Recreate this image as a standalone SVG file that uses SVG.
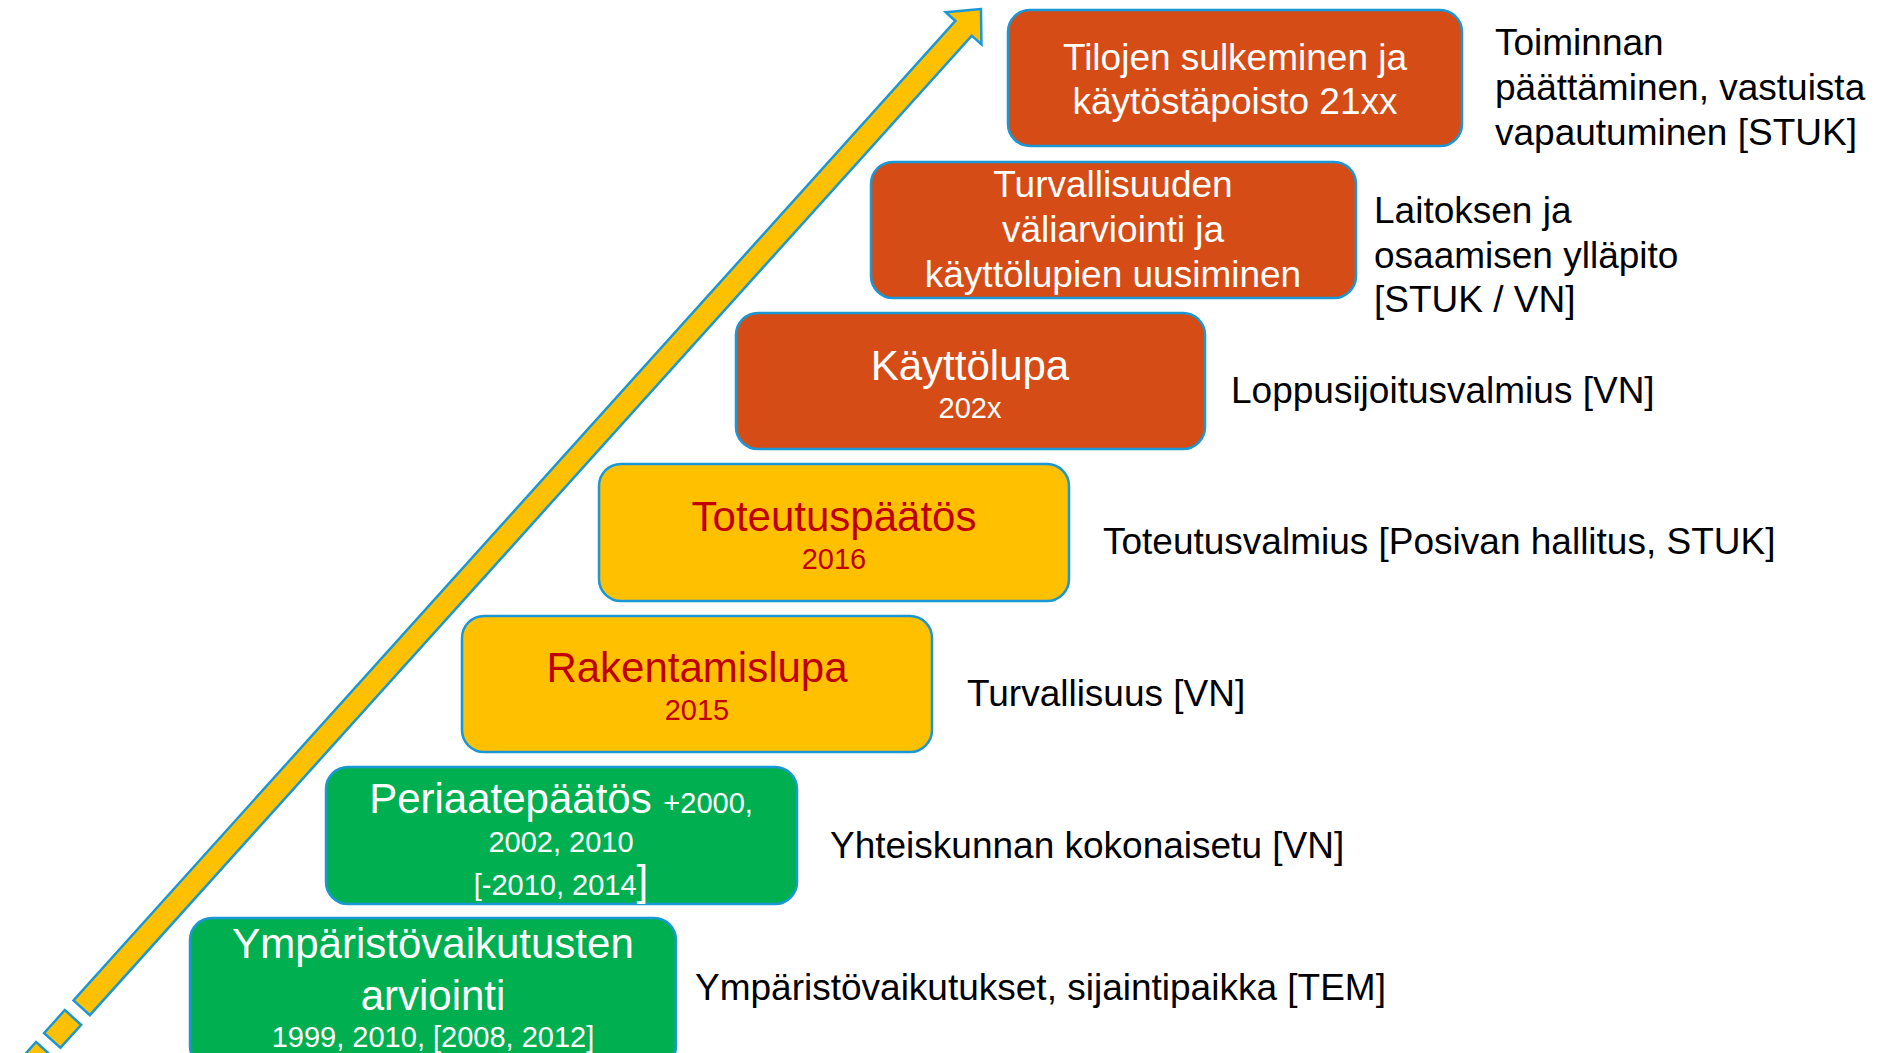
<svg xmlns="http://www.w3.org/2000/svg" width="1881" height="1053" viewBox="0 0 1881 1053">
<style>
text{font-family:"Liberation Sans",Arial,sans-serif}
.box{stroke:#1A98D5;stroke-width:2.5}
.or{fill:#D54C17}
.ye{fill:#FFC000}
.gr{fill:#00B050}
.w{fill:#FFFFFF}
.r{fill:#C00000}
.t37{font-size:37px}
.t42{font-size:42px}
.t29{font-size:29px}
.c{text-anchor:middle}
.lbl{font-size:37px;fill:#000000}
.arr{fill:#FFC000;stroke:#1A98D5;stroke-width:2.5;stroke-linejoin:miter}
</style>
<rect width="1881" height="1053" fill="#FFFFFF"/>
<g id="connectors">
<g transform="translate(981,9) rotate(-48)">
<polygon class="arr" points="0,0 -26,-24 -26,-11 -1344,-11 -1344,11 -26,11 -26,24"/>
<rect class="arr" x="-1388" y="-11" width="31" height="22"/>
<rect class="arr" x="-1460" y="-11" width="60" height="22"/>
</g>
</g>
<g id="n1">
<rect class="box or" x="1008" y="10" width="454" height="136" rx="22"/>
<text class="t37 w c" x="1235" y="70">Tilojen sulkeminen ja</text>
<text class="t37 w c" x="1235" y="114">käytöstäpoisto 21xx</text>
</g>
<g id="n2">
<rect class="box or" x="871" y="162" width="485" height="136" rx="22"/>
<text class="t37 w c" x="1113" y="197">Turvallisuuden</text>
<text class="t37 w c" x="1113" y="242">väliarviointi ja</text>
<text class="t37 w c" x="1113" y="287">käyttölupien uusiminen</text>
</g>
<g id="n3">
<rect class="box or" x="736" y="313" width="469" height="136" rx="22"/>
<text class="t42 w c" x="970" y="380">Käyttölupa</text>
<text class="t29 w c" x="970" y="418">202x</text>
</g>
<g id="n4">
<rect class="box ye" x="599" y="464" width="470" height="137" rx="22"/>
<text class="t42 r c" x="834" y="531">Toteutuspäätös</text>
<text class="t29 r c" x="834" y="569">2016</text>
</g>
<g id="n5">
<rect class="box ye" x="462" y="616" width="470" height="136" rx="22"/>
<text class="t42 r c" x="697" y="682">Rakentamislupa</text>
<text class="t29 r c" x="697" y="720">2015</text>
</g>
<g id="n6">
<rect class="box gr" x="326" y="767" width="471" height="137" rx="22"/>
<text class="w c" x="561" y="813"><tspan class="t42">Periaatepäätös </tspan><tspan class="t29">+2000,</tspan></text>
<text class="t29 w c" x="561" y="852">2002, 2010</text>
<text class="w c" x="561" y="895"><tspan class="t29">[-2010, 2014</tspan><tspan class="t42">]</tspan></text>
</g>
<g id="n7">
<rect class="box gr" x="190" y="918" width="486" height="150" rx="22"/>
<text class="t42 w c" x="433" y="958">Ympäristövaikutusten</text>
<text class="t42 w c" x="433" y="1010">arviointi</text>
<text class="t29 w c" x="433" y="1047">1999, 2010, [2008, 2012]</text>
</g>
<g id="labels">
<text class="lbl" x="1495" y="55">Toiminnan</text>
<text class="lbl" x="1495" y="100">päättäminen, vastuista</text>
<text class="lbl" x="1495" y="145">vapautuminen [STUK]</text>
<text class="lbl" x="1374" y="223">Laitoksen ja</text>
<text class="lbl" x="1374" y="268">osaamisen ylläpito</text>
<text class="lbl" x="1374" y="312">[STUK / VN]</text>
<text class="lbl" x="1231" y="403">Loppusijoitusvalmius [VN]</text>
<text class="lbl" x="1103" y="554">Toteutusvalmius [Posivan hallitus, STUK]</text>
<text class="lbl" x="967" y="706">Turvallisuus [VN]</text>
<text class="lbl" x="830" y="858">Yhteiskunnan kokonaisetu [VN]</text>
<text class="lbl" x="695" y="1000">Ympäristövaikutukset, sijaintipaikka [TEM]</text>
</g>
</svg>
